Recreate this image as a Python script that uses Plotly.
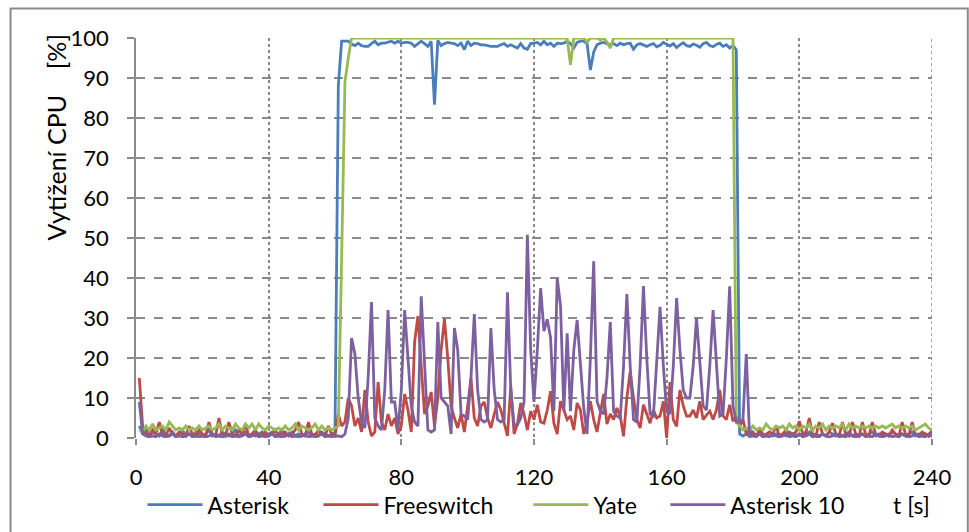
import plotly.graph_objects as go

time_s = list(range(1, 241))

asterisk = [
    3, 1, 2.5, 0.5, 1.5, 1, 0.5, 2, 1, 0.5, 1.5, 0.5, 1, 2, 0.5, 1, 0.5, 1.5, 1, 0.5,
    1, 2, 0.5, 1, 0.5, 1.5, 1, 0.5, 1, 2, 0.5, 1, 1.5, 0.5, 1, 0.5, 1, 1.5, 0.5, 1,
    1.5, 0.5, 1, 2, 0.5, 1, 1.5, 0.5, 1, 0.5, 1, 1.5, 0.5, 1, 0.5, 1.5, 1, 0.5, 1, 1.5,
    88, 99.2, 99.2, 99.2, 98.5, 98.1, 98.7, 98.1, 97.9, 97.9, 98.6, 99.2, 98.3, 98.7, 98.7, 98.9, 99.2, 98.7, 99.2, 98.7,
    98.9, 98.9, 98.7, 97.9, 98.6, 99.2, 98.6, 97.9, 99.2, 83.3, 99.4, 98.1, 98.6, 98.9, 98.7, 98.6, 98.1, 98.7, 97.1, 99.2,
    98.1, 98.7, 98.6, 98.3, 98.3, 98.1, 97.9, 97.9, 97.9, 98.3, 98.6, 97.9, 98.3, 97.9, 97.5, 98.6, 97.5, 97.2, 98.6, 98.7,
    98.9, 98.3, 99.2, 98.3, 98.7, 97.9, 98.7, 98.6, 98.7, 99.2, 98.6, 97.5, 98.9, 99.2, 99.2, 98.6, 92, 96.5, 98.3, 98.7,
    98.9, 98.6, 98.3, 98.6, 98.1, 98.7, 98.3, 98.6, 98.7, 97.2, 98.3, 98.6, 98.3, 97.9, 98.3, 98.6, 97.8, 98.2, 98.9, 98.4,
    98, 98.6, 97.6, 98.3, 98.8, 98.1, 97.9, 98.5, 98.2, 97.7, 98.6, 98.9, 98.1, 97.8, 98.4, 98.7, 97.9, 98.3, 97.5, 98.2,
    97, 1, 0.5, 1, 0.5, 1.5, 0.5, 1, 0.5, 1, 1.5, 0.5, 1, 0.5, 1, 0.5, 1.5, 1, 0.5, 1,
    0.5, 1, 1.5, 0.5, 1, 0.5, 1, 0.5, 1.5, 1, 0.5, 1, 0.5, 1, 1.5, 0.5, 1, 0.5, 1, 0.5,
    1, 1.5, 0.5, 1, 0.5, 1, 0.5, 1.5, 1, 0.5, 1, 0.5, 1, 1.5, 0.5, 1, 0.5, 1, 0.5, 1,
]

freeswitch = [
    15, 3, 1, 0.5, 2, 1, 4, 1, 0.5, 2.5, 1, 0.5, 1.5, 1, 0.5, 3, 1, 0.5, 2, 1,
    0.5, 4, 1, 0.5, 5, 1, 0.5, 4, 1, 0.5, 2, 1, 3.5, 0.5, 1, 2, 0.5, 1, 1.5, 0.5,
    1, 2, 0.5, 1, 1.5, 0.5, 1, 2, 4, 1, 0.5, 4, 1, 0.5, 2, 1, 0.5, 3, 1, 0.5,
    6, 3, 4, 10, 8, 3, 5, 1.5, 12, 4, 0.5, 1.5, 14, 4, 2, 6, 3, 5, 1, 3,
    11, 7, 1.5, 24, 30.5, 18, 6, 8, 11.5, 3, 10, 22, 29.8, 20, 8, 5, 2.5, 6, 1.5, 8,
    15, 5, 3, 8, 9, 5, 2.5, 6, 9, 7, 4, 0.5, 12.9, 1, 3.5, 8.75, 6, 2, 6.7, 4.6,
    8.3, 4, 3.7, 7, 11.7, 3.7, 1, 9.2, 7, 4.6, 5.5, 2, 8.75, 7, 1, 4, 9.2, 4.6, 1.5, 6.7,
    11, 3.5, 6, 4.6, 7.5, 5.5, 0.4, 10, 16.6, 10, 4.6, 2.5, 8.3, 6, 3.7, 7, 5, 5.5, 9.2, 0,
    14, 4.6, 2.9, 12, 8, 5.5, 5.5, 7, 5, 9.2, 4.6, 5.7, 6.7, 4.6, 7, 12, 5.5, 4.6, 8.3, 4.2,
    5.5, 3, 4.6, 1, 2, 1, 0.5, 2, 1, 0.5, 1.5, 1, 3, 0.5, 1, 2, 0.5, 1, 1.5, 4.2,
    1, 1.5, 5, 1, 0.5, 4, 1, 0.5, 1.5, 3.7, 1, 0.5, 4, 1, 0.5, 4, 1, 0.5, 4, 1,
    0.5, 4, 1, 0.5, 1.5, 1, 0.5, 2, 1, 0.5, 4, 1, 0.5, 4, 1, 0.5, 1.5, 1, 0.5, 2,
]

yate = [
    2, 1.5, 3, 2, 3.5, 2, 2.5, 3, 2, 4, 3, 2, 2.5, 2, 3, 2, 2.5, 2, 3, 2,
    2.5, 3, 2, 2.5, 3.5, 2, 3, 2.5, 2, 3.5, 2.5, 2, 3.5, 2.5, 3.5, 2, 3.5, 2.5, 2, 3,
    2.5, 2, 2.5, 2, 3, 2, 2.5, 3.5, 2, 3, 2.5, 2, 2.5, 3.5, 2, 3, 2, 2.5, 2, 2.5,
    3, 45, 89, 95, 100, 100, 100, 100, 100, 100, 100, 100, 100, 100, 100, 100, 100, 100, 100, 100,
    100, 100, 100, 100, 100, 100, 100, 100, 100, 100, 100, 100, 100, 100, 100, 100, 100, 100, 100, 100,
    100, 100, 100, 100, 100, 100, 100, 100, 100, 100, 100, 100, 100, 100, 100, 100, 100, 100, 100, 100,
    100, 100, 100, 100, 100, 100, 100, 100, 100, 100, 93.3, 100, 100, 100, 100, 99, 100, 100, 100, 99.5,
    100, 99, 97.5, 100, 100, 100, 100, 100, 100, 100, 100, 100, 100, 100, 100, 100, 100, 100, 100, 100,
    100, 100, 100, 100, 100, 100, 100, 100, 100, 100, 100, 100, 100, 100, 100, 100, 100, 100, 100, 100,
    4, 3, 2, 2.5, 2, 3, 2, 2.5, 2, 3.5, 2.5, 2, 3, 2.5, 3, 2, 3.5, 2.5, 3, 2,
    3, 2.5, 3.5, 2, 3, 2.5, 3.5, 2, 3, 2.5, 3, 2.5, 3.5, 2, 3.5, 2.5, 3, 2.5, 3, 2.5,
    3, 2.5, 3, 2.5, 3, 2.5, 3, 3.5, 2.5, 3, 2.5, 3, 2.5, 3, 2, 2.5, 3, 3.5, 2.5, 2,
]

asterisk10 = [
    9, 1, 0.5, 0.3, 0.5, 0.3, 1, 0.5, 0.3, 0.5, 1, 0.3, 0.5, 0.3, 0.5, 1, 0.3, 0.5, 0.3, 0.5,
    0.3, 0.5, 1, 0.3, 0.5, 0.3, 0.5, 1, 0.3, 0.5, 0.3, 0.5, 1, 0.3, 0.5, 1, 0.3, 0.5, 0.3, 0.5,
    1, 0.3, 0.5, 0.3, 0.5, 1, 0.3, 0.5, 0.3, 0.5, 1, 0.3, 0.5, 0.3, 0.5, 1, 0.3, 0.5, 0.3, 0.5,
    0.5, 0.3, 1, 5, 25, 21, 10, 4, 2.5, 15, 34, 5, 3, 2, 12, 32, 9, 9, 2, 12,
    32, 21, 8, 4, 3, 35.4, 18, 2, 1.5, 2, 29, 10, 9, 8, 1, 27.5, 22, 6, 5.5, 4.6,
    15, 31, 12, 4.6, 4, 4.6, 27.5, 12, 4.6, 4, 4.6, 36.4, 12, 3.3, 3.3, 5, 9, 50.8, 22, 9,
    22, 37.5, 26.7, 29.7, 25, 6.7, 40, 33, 6.7, 26.2, 6.7, 22, 29.5, 18, 7.5, 1, 20, 44.2, 9.2, 6.7,
    6, 15, 29, 6.7, 5.5, 5, 18, 36, 18, 4.6, 4, 18, 38, 20, 6, 5.5, 18, 32.8, 18, 6.7,
    6, 18, 35, 22, 12, 10, 10, 18, 30, 18, 8, 7, 18, 32, 18, 5.5, 6, 20, 37.9, 8,
    4, 4, 4.6, 21, 0.4, 0.5, 0.3, 1, 0.3, 0.5, 0.3, 1, 0.5, 0.3, 0.5, 1, 0.3, 0.5, 0.3, 1,
    0.3, 0.5, 1, 0.3, 0.5, 0.3, 1, 0.5, 0.3, 0.5, 1, 0.3, 0.5, 0.3, 1, 0.5, 0.3, 0.5, 1, 0.3,
    0.5, 0.3, 1, 0.5, 0.3, 0.5, 1, 0.3, 0.5, 0.3, 1, 0.5, 0.3, 0.5, 1, 0.3, 0.5, 0.3, 1, 0.5,
]

series_names = ["Asterisk", "Freeswitch", "Yate", "Asterisk 10"]
series_values = [asterisk, freeswitch, yate, asterisk10]
series_colors = ["#4A7EBB", "#BE4B48", "#98B954", "#7D60A0"]

x_ticks = [0, 40, 80, 120, 160, 200, 240]
y_ticks = [0, 10, 20, 30, 40, 50, 60, 70, 80, 90, 100]

for s in series_values:
    assert len(s) == len(time_s), len(s)

FONT = "Lato, 'Open Sans', sans-serif"
W, H = 969, 532
L, R, T, B = 135.5, 37.3, 38, 93.7
PW, PH = W - L - R, H - T - B


def px(xp):
    return (xp - L) / PW


def py(yp):
    return (H - B - yp) / PH


fig = go.Figure()
legend_ids = ["legend", "legend2", "legend3", "legend4"]
legend_left = [142, 318, 528, 665]
for name, vals, col, lid in zip(series_names, series_values, series_colors, legend_ids):
    fig.add_trace(go.Scatter(
        x=time_s, y=vals, name=name, mode="lines",
        line=dict(color=col, width=2.8), legend=lid,
    ))

legend_common = dict(
    orientation="h", xanchor="left", yanchor="middle",
    font=dict(family=FONT, size=23, color="#000"),
    bgcolor="rgba(0,0,0,0)", itemwidth=55, borderwidth=0,
)
layout_legends = {}
for lid, lx in zip(legend_ids, legend_left):
    layout_legends[lid] = dict(legend_common, x=px(lx), y=py(505))

fig.update_layout(
    width=W, height=H,
    margin=dict(l=L, r=R, t=T, b=B, pad=0, autoexpand=False),
    paper_bgcolor="white", plot_bgcolor="white",
    font=dict(family=FONT, size=21, color="#000"),
    showlegend=True,
    **layout_legends,
)

fig.update_xaxes(
    range=[0, 240], tickvals=x_ticks, ticktext=[str(v) for v in x_ticks],
    showgrid=True, gridcolor="#8a8a8a", gridwidth=1.5, griddash="dot",
    zeroline=False, showline=False,
    ticks="outside", ticklen=6, tickcolor="#8a8a8a", tickwidth=1.5,
    tickfont=dict(family=FONT, size=22), ticklabelstandoff=14,
)
fig.update_yaxes(
    range=[0, 100], tickvals=y_ticks, ticktext=[str(v) for v in y_ticks],
    showgrid=True, gridcolor="#8a8a8a", gridwidth=1.5, griddash="dash",
    zeroline=False, showline=True, linecolor="#8a8a8a", linewidth=1.8,
    ticks="outside", ticklen=7, tickcolor="#8a8a8a", tickwidth=1.5,
    tickfont=dict(family=FONT, size=22), ticklabelstandoff=14,
)

# outer chart border
fig.add_shape(
    type="rect", xref="paper", yref="paper",
    x0=px(10), x1=px(967.5), y0=py(545), y1=py(8.5),
    line=dict(color="#8a8a8a", width=2), fillcolor="rgba(0,0,0,0)", layer="below",
)
# right-edge vertical gridline at 240 s
fig.add_shape(
    type="line", xref="x", yref="y", x0=x_ticks[-1], x1=x_ticks[-1],
    y0=y_ticks[0], y1=y_ticks[-1],
    line=dict(color="#8a8a8a", width=1.5, dash="dot"), layer="below",
)

fig.add_annotation(
    text="Vytížení CPU\u00a0\u00a0\u00a0 [%]", textangle=-90,
    xref="paper", yref="paper", x=px(55), y=py(137),
    xanchor="center", yanchor="middle",
    showarrow=False, font=dict(family=FONT, size=25, color="#000"),
)
fig.add_annotation(
    text="t [s]", xref="paper", yref="paper", x=px(911), y=py(505),
    xanchor="center", yanchor="middle",
    showarrow=False, font=dict(family=FONT, size=23, color="#000"),
)

fig.write_html("out.html")
